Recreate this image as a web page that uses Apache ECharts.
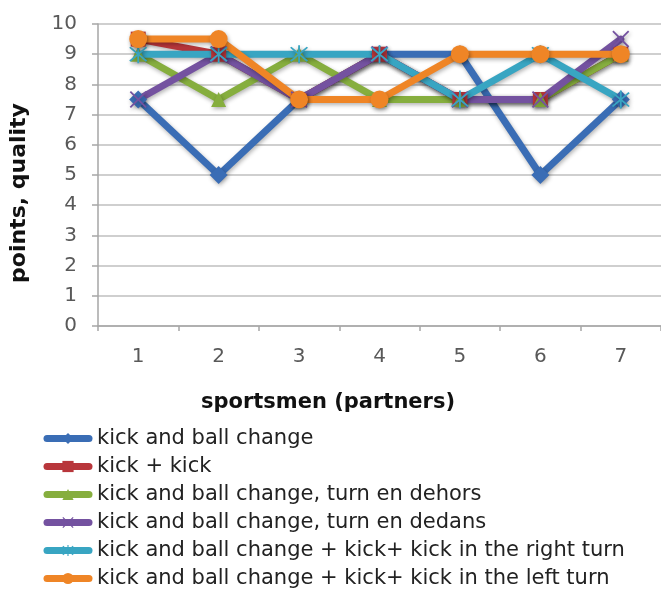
<!DOCTYPE html>
<html>
<head>
<meta charset="utf-8">
<script src="https://cdn.jsdelivr.net/npm/echarts@6/dist/echarts.min.js"></script>
<style>
html,body{margin:0;padding:0;background:#fff;}
#chart{width:661px;height:595px;}
</style>
</head>
<body>
<div id="chart"></div>
<script>
var categories = ['1','2','3','4','5','6','7'];
var seriesNames = [
  'kick and ball change',
  'kick + kick',
  'kick and ball change, turn en dehors',
  'kick and ball change, turn en dedans',
  'kick and ball change + kick+ kick in the right turn',
  'kick and ball change + kick+ kick in the left turn'
];
var kickBallChange = [7.5, 5, 7.5, 9, 9, 5, 7.5];
var kickKick = [9.5, 9, 7.5, 9, 7.5, 7.5, 9];
var turnEnDehors = [9, 7.5, 9, 7.5, 7.5, 7.5, 9];
var turnEnDedans = [7.5, 9, 7.5, 9, 7.5, 7.5, 9.5];
var rightTurn = [9, 9, 9, 9, 7.5, 9, 7.5];
var leftTurn = [9.5, 9.5, 7.5, 7.5, 9, 9, 9];

var colors = ['#3a6db5', '#b8363b', '#86ae3e', '#7452a0', '#38a5c2', '#ef8526'];
var xPath = 'path://M1.5,0L10,8.5L18.5,0L20,1.5L11.5,10L20,18.5L18.5,20L10,11.5L1.5,20L0,18.5L8.5,10L0,1.5Z';
var starPath = 'path://M1.5,0L10,8.5L18.5,0L20,1.5L11.5,10L20,18.5L18.5,20L10,11.5L1.5,20L0,18.5L8.5,10L0,1.5Z M9,-2L11,-2L11,22L9,22Z';
var symbols = ['diamond', 'rect', 'triangle', xPath, starPath, 'circle'];
var symbolSizes = [18, 15, 15, 17, 18, 18];
var allData = [kickBallChange, kickKick, turnEnDehors, turnEnDedans, rightTurn, leftTurn];

var chart = echarts.init(document.getElementById('chart'), null, {renderer: 'canvas'});
var series = allData.map(function (d, i) {
  return {
    name: seriesNames[i],
    type: 'line',
    data: d,
    symbol: symbols[i],
    symbolSize: symbolSizes[i],
    showAllSymbol: true,
    animation: false,
    lineStyle: {
      width: 7, color: colors[i], cap: 'round', join: 'round',
      shadowColor: 'rgba(0,0,0,0.3)', shadowBlur: 4, shadowOffsetX: 1, shadowOffsetY: 2
    },
    itemStyle: {
      color: colors[i], borderColor: colors[i], borderWidth: 0,
      shadowColor: 'rgba(0,0,0,0.3)', shadowBlur: 4, shadowOffsetX: 1, shadowOffsetY: 2
    },
    emphasis: {disabled: true}
  };
});

chart.setOption({
  backgroundColor: '#ffffff',
  animation: false,
  color: colors,
  grid: {left: 98, top: 24, width: 566, height: 302, containLabel: false},
  xAxis: {
    type: 'category',
    data: categories,
    boundaryGap: true,
    axisLine: {show: true, lineStyle: {color: '#a6a6a6', width: 1.5}},
    axisTick: {show: true, length: 5, interval: 0, lineStyle: {color: '#a6a6a6', width: 1.5}},
    axisLabel: {margin: 21, fontSize: 20, fontFamily: 'DejaVu Sans', color: '#595959'},
    splitLine: {show: false}
  },
  yAxis: {
    type: 'value',
    min: 0, max: 10, interval: 1,
    axisLine: {show: true, lineStyle: {color: '#a6a6a6', width: 1.5}},
    axisTick: {show: true, length: 6, lineStyle: {color: '#a6a6a6', width: 1.5}},
    axisLabel: {margin: 21, fontSize: 20, fontFamily: 'DejaVu Sans', color: '#595959'},
    splitLine: {show: true, lineStyle: {color: '#bfbfbf', width: 1.5}}
  },
  legend: {
    orient: 'vertical',
    left: 43.5, top: 428,
    padding: 0,
    itemWidth: 42, itemHeight: 14, itemGap: 7,
    selectedMode: false,
    lineStyle: {width: 7, cap: 'round'},
    itemStyle: {borderWidth: 0, shadowBlur: 0},
    textStyle: {fontSize: 21, fontFamily: 'DejaVu Sans', color: '#222222', padding: [0, 0, 0, 3]},
    data: seriesNames
  },
  graphic: [
    {type: 'text', x: 19, y: 193, rotation: Math.PI / 2,
      style: {text: 'points, quality', font: 'bold 22px "DejaVu Sans"', fill: '#111', align: 'center', verticalAlign: 'middle'}},
    {type: 'text', x: 328, y: 403,
      style: {text: 'sportsmen (partners)', font: 'bold 21px "DejaVu Sans"', fill: '#111', align: 'center', verticalAlign: 'middle'}}
  ],
  series: series
});
</script>
</body>
</html>
